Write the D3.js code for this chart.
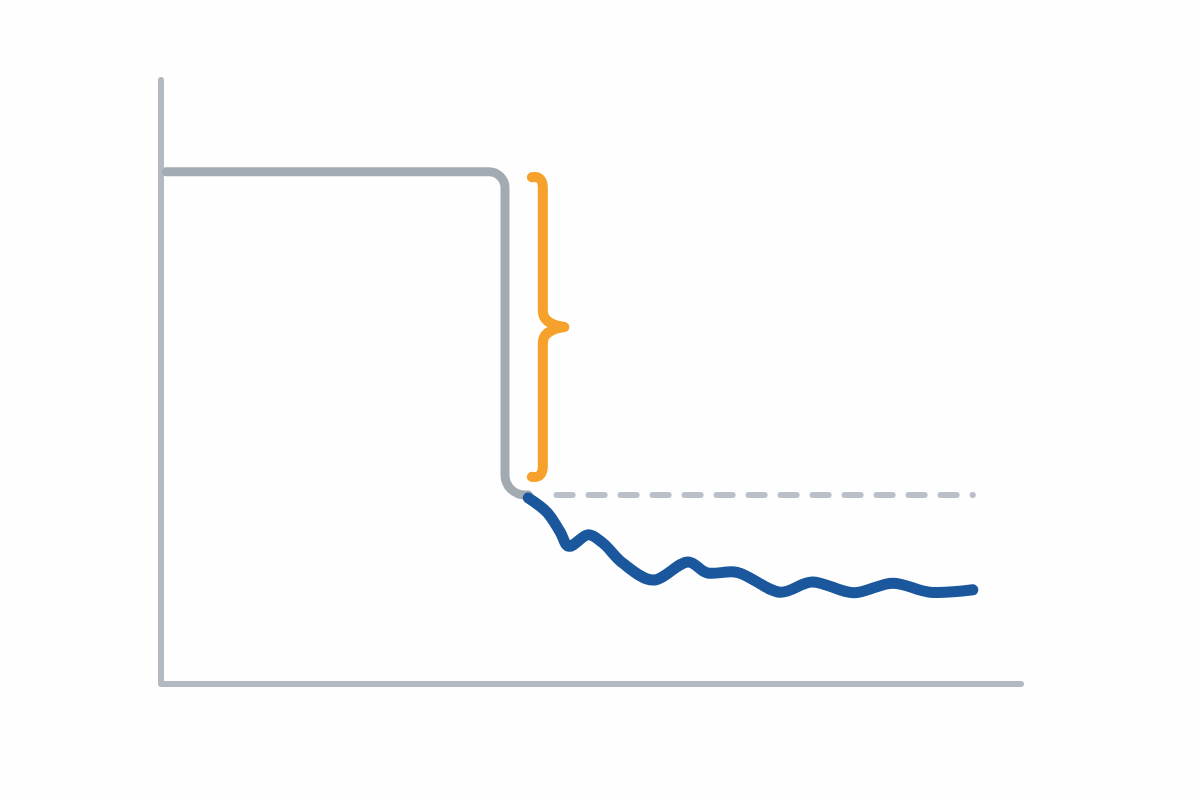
<!DOCTYPE html>
<html>
<head>
<meta charset="utf-8">
<script src="https://cdn.jsdelivr.net/npm/d3@7"></script>
<style>
  html, body { margin: 0; padding: 0; background: #fefefe; }
  svg { display: block; }
</style>
</head>
<body>
<svg></svg>
<script>
// step line (gray): before / drop / after
const stepX = [0.6, 40.0, 40.0, 42.7];
const stepY = [84.8, 84.8, 31.3, 31.3];

// wavy series after the drop (blue)
const waveX = [42.7, 44.9, 46.4, 47.4, 49.7, 51.4, 53.7, 57.2, 61.3, 63.5, 67.0, 72.0, 75.7, 80.5, 85.1, 89.4, 94.4];
const waveY = [30.8, 28.4, 25.2, 22.8, 24.7, 23.3, 20.0, 17.2, 20.2, 18.4, 18.5, 15.2, 16.9, 15.1, 16.7, 15.2, 15.6];

// dashed reference level
const refX = [46.0, 94.4];
const refY = 31.3;

// brace marking the gap
const braceX = 44.4;
const braceTip = 46.9;
const braceTop = 83.9;
const braceBottom = 34.3;

(function (window, document) {
    const width = 1200;
    const height = 800;

    let svg = d3.select("svg")
        .attr("width", width)
        .attr("height", height);

    let x = d3.scaleLinear()
        .domain([0, 100])
        .range([161, 1021]);

    let y = d3.scaleLinear()
        .domain([0, 100])
        .range([684, 80]);

    // axes
    svg.append("path")
        .attr("d", `M${x(0)},${y(100)}V${y(0)}H${x(100)}`)
        .attr("fill", "none")
        .attr("stroke", "#b2b9c0")
        .attr("stroke-width", 6)
        .attr("stroke-linecap", "round")
        .attr("stroke-linejoin", "round");

    // dashed reference
    svg.append("line")
        .attr("x1", x(refX[0]))
        .attr("x2", x(refX[1]))
        .attr("y1", y(refY))
        .attr("y2", y(refY))
        .attr("stroke", "#b9c0c8")
        .attr("stroke-width", 6)
        .attr("stroke-linecap", "round")
        .attr("stroke-dasharray", "16 16");

    // gray step with rounded corners
    let pts = stepX.map((d, i) => [x(d), y(stepY[i])]);
    let p = d3.path();
    p.moveTo(pts[0][0], pts[0][1]);
    p.arcTo(pts[1][0], pts[1][1], pts[2][0], pts[2][1], 16);
    p.arcTo(pts[2][0], pts[2][1], pts[3][0], pts[3][1], 20);
    p.lineTo(pts[3][0], pts[3][1]);
    svg.append("path")
        .attr("d", p.toString())
        .attr("fill", "none")
        .attr("stroke", "#a3abb2")
        .attr("stroke-width", 9)
        .attr("stroke-linecap", "round");

    // blue wave
    let line = d3.line()
        .x(d => x(d[0]))
        .y(d => y(d[1]))
        .curve(d3.curveCatmullRom.alpha(0.5));

    svg.append("path")
        .datum(waveX.map((d, i) => [d, waveY[i]]))
        .attr("d", line)
        .attr("fill", "none")
        .attr("stroke", "#1b579d")
        .attr("stroke-width", 11)
        .attr("stroke-linecap", "round")
        .attr("stroke-linejoin", "round");

    // orange brace
    let bx = x(braceX), tx = x(braceTip);
    let top = y(braceTop), bot = y(braceBottom), mid = (top + bot) / 2;
    let hook = 11;
    let b = d3.path();
    b.moveTo(bx - hook, top);
    b.quadraticCurveTo(bx, top - 2, bx, top + hook);
    b.lineTo(bx, mid - 16);
    b.quadraticCurveTo(bx, mid - 3, tx, mid);
    b.quadraticCurveTo(bx, mid + 3, bx, mid + 16);
    b.lineTo(bx, bot - hook);
    b.quadraticCurveTo(bx, bot + 2, bx - hook, bot);
    svg.append("path")
        .attr("d", b.toString())
        .attr("fill", "none")
        .attr("stroke", "#f6a12b")
        .attr("stroke-width", 10)
        .attr("stroke-linecap", "round")
        .attr("stroke-linejoin", "round");
})(window, document)
</script>
</body>
</html>
